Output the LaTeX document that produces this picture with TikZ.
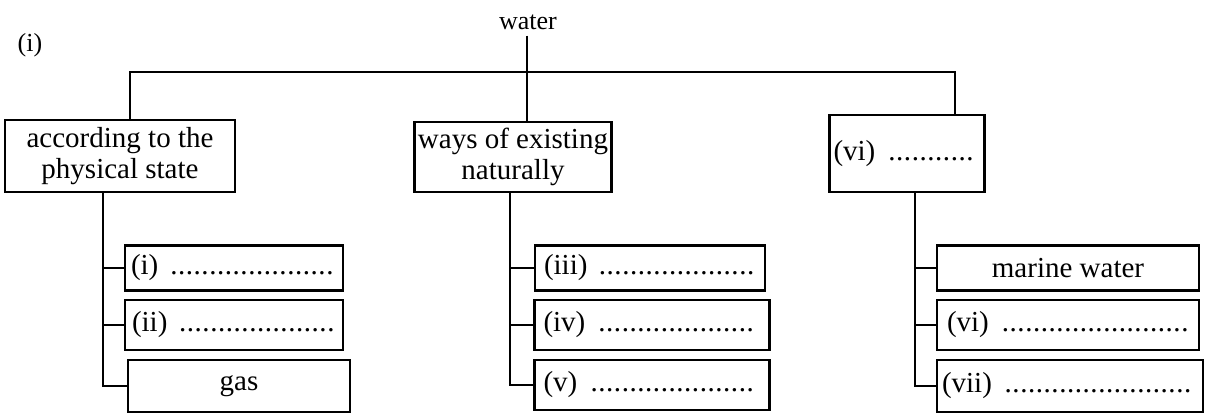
\documentclass[tikz,border=0pt]{standalone}
\usepackage{fontspec}
\setmainfont{Liberation Serif}
\newcommand\dotline{\leaders\hbox to 7.8pt{\hss.\hss}\hfill}
\begin{document}
\begin{tikzpicture}[x=1pt,y=-1pt,
  box/.style={draw,line width=2.2pt,inner sep=0pt,align=center,
     font=\fontsize{29}{31}\selectfont},
  conn/.style={line width=2.2pt},
  lbl/.style={font=\fontsize{26}{30}\selectfont,inner sep=0pt}]
\useasboundingbox (0,0) rectangle (1213,420);
% titles
\node[lbl] (tag) at (30,45) {(i)};
\node[lbl] (water) at (528,22) {water};
% level-1 boxes
\node[box,minimum width=230,minimum height=72] (b1) at (120,156) {according to the\\physical state};
\node[box,minimum width=197,minimum height=70] (b2) at (513,157) {ways of existing\\naturally};
\node[box,minimum width=155,minimum height=77] (b3) at (907,153.5) {\makebox[147pt][l]{(vi)\ \dotline}};
% left column
\node[box,minimum width=218,minimum height=45] (l1) at (234,268) {\makebox[206pt][l]{(i)\ \dotline}};
\node[box,minimum width=218,minimum height=50] (l2) at (234,325) {\makebox[204pt][l]{(ii)\ \dotline}};
\node[box,minimum width=222,minimum height=52] (l3) at (239,386) {gas};
% middle column
\node[box,minimum width=230,minimum height=45] (m1) at (650,268) {\makebox[212pt][l]{(iii)\ \dotline}};
\node[box,minimum width=235,minimum height=50] (m2) at (652,325) {\makebox[217pt][l]{(iv)\ \dotline}};
\node[box,minimum width=235,minimum height=50] (m3) at (652,385) {\makebox[217pt][l]{(v)\ \dotline}};
% right column
\node[box,minimum width=262,minimum height=45] (r1) at (1068,268) {marine water};
\node[box,minimum width=262,minimum height=50] (r2) at (1068,325) {\makebox[242pt][l]{(vi)\ \dotline}};
\node[box,minimum width=266,minimum height=52] (r3) at (1070,386) {\makebox[256pt][l]{(vii)\ \dotline}};
% connectors
\coordinate (hl) at (130,72);
\coordinate (hr) at (955,72);
\coordinate (hw) at (527,72);
\coordinate (sl) at (103,0);
\coordinate (sm) at (510,0);
\coordinate (sr) at (915,0);
\draw[conn] (water.south -| hw) ++(0,6) -- (hw |- b2.north);
\draw[conn] (b1.north -| hl) -- (hl) -- (hr) -- (hr |- b3.north);
\draw[conn] (b1.south -| sl) -- (sl |- l3.west) -- (l3.west);
\draw[conn] (sl |- l1.west) -- (l1.west);
\draw[conn] (sl |- l2.west) -- (l2.west);
\draw[conn] (b2.south -| sm) -- (sm |- m3.west) -- (m3.west);
\draw[conn] (sm |- m1.west) -- (m1.west);
\draw[conn] (sm |- m2.west) -- (m2.west);
\draw[conn] (b3.south -| sr) -- (sr |- r3.west) -- (r3.west);
\draw[conn] (sr |- r1.west) -- (r1.west);
\draw[conn] (sr |- r2.west) -- (r2.west);
\end{tikzpicture}
\end{document}
